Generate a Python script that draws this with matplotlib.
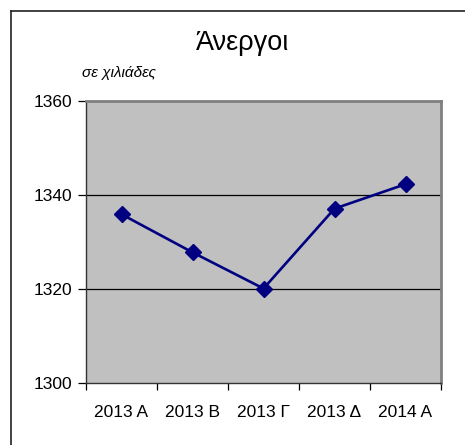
"""Line chart: unemployed persons (thousands), quarterly."""

import matplotlib
matplotlib.use("Agg")
import matplotlib.pyplot as plt
from matplotlib.lines import Line2D

plt.rcParams["font.family"] = ["Liberation Sans", "DejaVu Sans"]

quarters = ["2013 A", "2013 B", "2013 Γ", "2013 Δ", "2014 A"]
unemployed = [1335.9, 1327.8, 1320.1, 1337.1, 1342.3]
y_ticks = [1300, 1320, 1340, 1360]

C_LINE = "#000080"
C_PLOT = "#C0C0C0"
C_FRAME = "#808080"

W, H = 465, 445
fig = plt.figure(figsize=(W / 100, H / 100), dpi=100)
fig.patch.set_facecolor("white")

# outer chart frame (cut by the image on right and bottom)
fig.add_artist(Line2D([11 / W, 1.0], [1 - 11 / H, 1 - 11 / H],
                      transform=fig.transFigure, color="#222222", lw=1.2))
fig.add_artist(Line2D([11 / W, 11 / W], [0.0, 1 - 11 / H],
                      transform=fig.transFigure, color="#222222", lw=1.2))

ax = fig.add_axes([86 / W, 62 / H, 355 / W, 282 / H])
ax.set_facecolor(C_PLOT)

x = list(range(len(quarters)))
ax.plot(x, unemployed, color=C_LINE, lw=1.9, marker="D", markersize=8.5,
        markerfacecolor=C_LINE, markeredgecolor=C_LINE, zorder=3)

ax.set_xlim(-0.5, len(quarters) - 0.5)
ax.set_ylim(1300, 1360)
ax.set_yticks(y_ticks)
ax.set_yticklabels([str(v) for v in y_ticks], fontsize=12.5)
for v in y_ticks[1:-1]:
    ax.axhline(v, color="black", lw=0.9, zorder=1)

ax.set_xticks(x)
ax.set_xticklabels(quarters, fontsize=12.5)
ax.tick_params(axis="x", which="major", length=0, pad=16)
ax.set_xticks([i - 0.5 for i in range(len(quarters) + 1)], minor=True)
ax.tick_params(axis="x", which="minor", length=5, width=0.9, direction="out")
ax.tick_params(axis="y", length=6, width=0.9, direction="out", pad=4)

for side in ("top", "right"):
    ax.spines[side].set_color(C_FRAME)
    ax.spines[side].set_linewidth(2.0)
for side in ("left", "bottom"):
    ax.spines[side].set_color("#333333")
    ax.spines[side].set_linewidth(1.0)

fig.text(243 / W, 1 - 43 / H, "Άνεργοι", fontsize=19.5, ha="center", va="center")
fig.text(82 / W, 1 - 73 / H, "σε χιλιάδες", fontsize=11, style="italic",
         ha="left", va="center")

fig.savefig("out.png", dpi=100, facecolor="white")
